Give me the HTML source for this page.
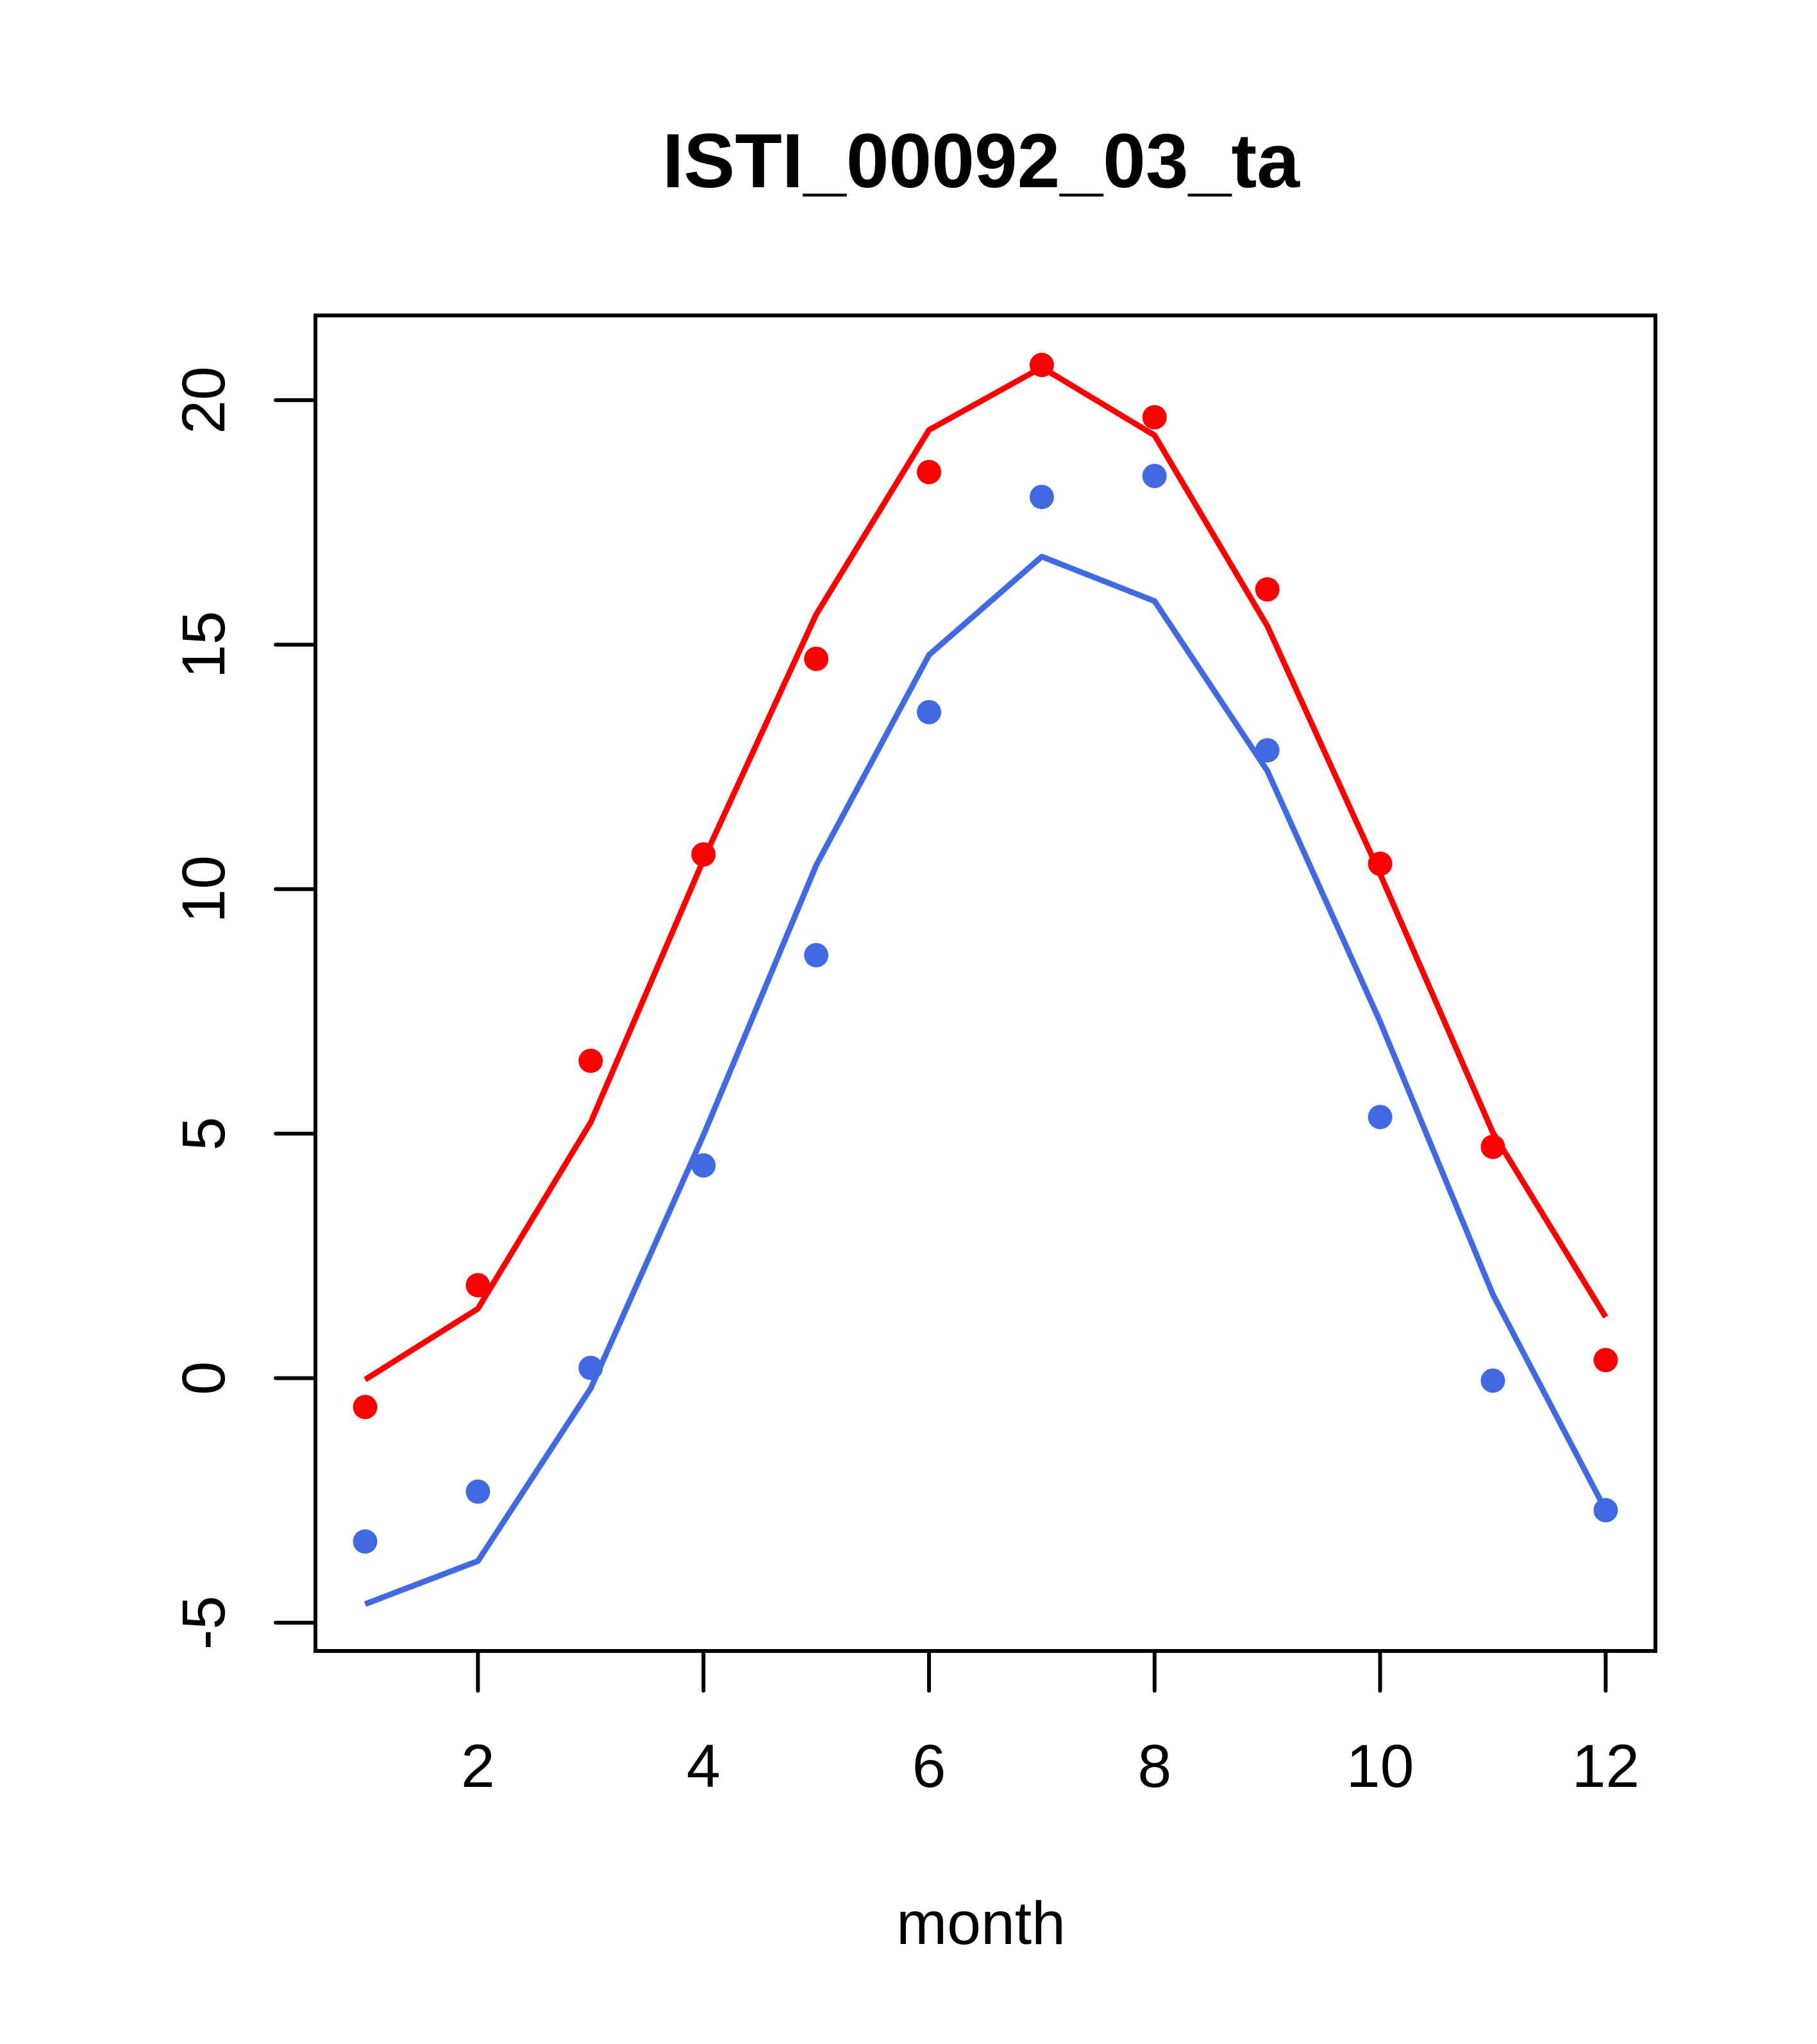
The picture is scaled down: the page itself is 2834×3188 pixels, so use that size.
<!DOCTYPE html>
<html><head><meta charset="utf-8"><style>
html,body{margin:0;padding:0;background:#fff}
svg{display:block}
text{font-family:"Liberation Sans",Arial,sans-serif}
</style></head><body>
<svg id="chart" width="2834" height="3188" viewBox="0 0 2834 3188" xmlns="http://www.w3.org/2000/svg">
<rect width="2834" height="3188" fill="#fff"/>
<text x="1530" y="292" font-size="120" font-weight="bold" text-anchor="middle">ISTI_00092_03_ta</text>
<text x="1530" y="3032" font-size="95" text-anchor="middle">month</text>
<g id="plot"></g>
</svg>
<script>
const months = [1,2,3,4,5,6,7,8,9,10,11,12];
const redPoints = [-0.59,1.9,6.49,10.71,14.71,18.53,20.72,19.65,16.13,10.52,4.73,0.37];
const redLine = [-0.03,1.42,5.23,10.6,15.62,19.39,20.67,19.28,15.38,10.31,5.02,1.25];
const bluePoints = [-3.34,-2.32,0.21,4.35,8.65,13.62,18.02,18.45,12.84,5.34,-0.05,-2.70];
const blueLine = [-4.62,-3.74,-0.21,4.97,10.49,14.79,16.8,15.89,12.42,7.29,1.71,-2.70];
const xTicks = [2,4,6,8,10,12];
const yTicks = [-5,0,5,10,15,20];

const NS = "http://www.w3.org/2000/svg";
const g = document.getElementById('plot');
function xs(m){ return 569.5 + (m-1)*175.9; }
function ys(v){ return 2149.5 - v*76.27; }
function mk(tag, attrs){ const e=document.createElementNS(NS,tag); for(const k in attrs) e.setAttribute(k,attrs[k]); g.appendChild(e); return e; }

const box = mk('rect',{x:492,y:492,width:2090,height:2083,fill:'none',stroke:'#000','stroke-width':6});



xTicks.forEach(t=>{
  const l = mk('line',{x1:xs(t),x2:xs(t),y1:2575,y2:2637,stroke:'#000','stroke-width':6,'stroke-linecap':'round'});
  
  
  const tx = mk('text',{x:xs(t),y:2787,'font-size':95,'text-anchor':'middle'});
  tx.textContent = t;
  
  
});
yTicks.forEach(t=>{
  const l = mk('line',{x1:430,x2:492,y1:ys(t),y2:ys(t),stroke:'#000','stroke-width':6,'stroke-linecap':'round'});
  
  
  const tx = mk('text',{x:0,y:0,'font-size':95,'text-anchor':'middle',transform:`translate(350,${ys(t)}) rotate(-90)`});
  tx.textContent = t;
  
  
});

function series(line, pts, color, name){
  const p = mk('polyline',{points:months.map((m,i)=>xs(m)+','+ys(line[i])).join(' '),fill:'none',stroke:color,'stroke-width':9,'stroke-linejoin':'round'});
  
  
  months.forEach((m,i)=>{
    const c = mk('circle',{cx:xs(m),cy:ys(pts[i]),r:19,fill:color});
    
    
  });
}
series(blueLine, bluePoints, '#4169E1', 'blue');
series(redLine, redPoints, '#FF0000', 'red');
</script>
</body></html>
